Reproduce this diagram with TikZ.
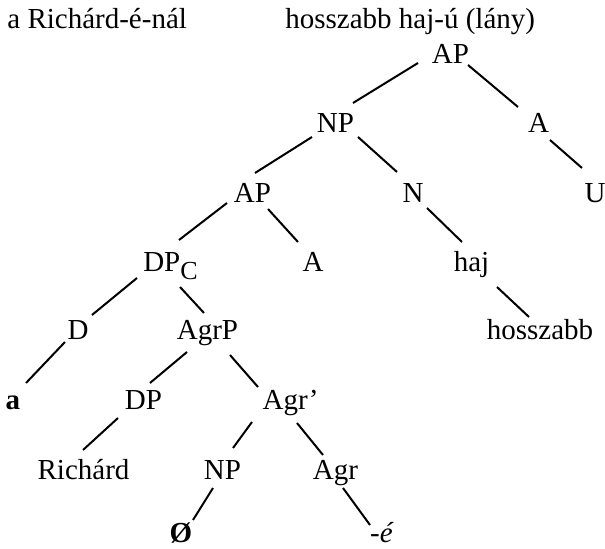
\documentclass[tikz,border=0pt]{standalone}
\usepackage{fontspec}
\setmainfont{Liberation Serif}
\usepackage{tikz}
\tikzset{
    every node/.style={inner sep=0pt, anchor=base, font=\fontsize{14.5}{17}\selectfont},
    branch/.style={line width=1pt},
}

\begin{document}
\begin{tikzpicture}[x=0.5pt, y=-0.5pt]
\useasboundingbox (0,0) rectangle (605,549);
% headings
\node[anchor=base west] (head1) at (7,29) {a Richárd-é-nál};
\node[anchor=base west] (head2) at (285,29) {hosszabb haj-ú (lány)};
% right tree
\node (ap0) at (450.5,64) {AP};
\node (np1) at (335.5,133) {NP};
\node (a1) at (538.5,133) {A};
\node (ap2) at (252.5,203) {AP};
\node (n) at (413,203) {N};
\node (u) at (595,203) {U};
\node (dpc) at (170.5,272) {DP\raisebox{-4pt}{\fontsize{13}{13}\selectfont C}};
\node (a2) at (313,272) {A};
\node (haj) at (471.5,272) {haj};
\node (d) at (78,340) {D};
\node (agrp) at (207.5,340) {AgrP};
\node (hosszabb) at (540,340) {hosszabb};
\node (det) at (13,410) {\textbf{a}};
\node (dp) at (143.5,410) {DP};
\node (agrbar) at (290.5,410) {Agr’};
\node (richard) at (83.5,480) {Richárd};
\node (np) at (222.5,480) {NP};
\node (agr) at (335.5,480) {Agr};
\node (empty) at (181,543) {\textbf{Ø}};
\node (suffix) at (382,543) {\textit{-é}};
% branches
\draw[branch] ([shift={(-32.5,-1)}]ap0.base) -- ([shift={(17.5,-30)}]np1.base);
\draw[branch] ([shift={(17.5,1)}]ap0.base) -- ([shift={(-20.5,-26)}]a1.base);
\draw[branch] ([shift={(-23.5,4)}]np1.base) -- ([shift={(2.5,-30)}]ap2.base);
\draw[branch] ([shift={(22.5,4)}]np1.base) -- ([shift={(-16,-31)}]n.base);
\draw[branch] ([shift={(11.5,7)}]a1.base) -- ([shift={(-13,-35)}]u.base);
\draw[branch] ([shift={(-25.5,0)}]ap2.base) -- ([shift={(8.5,-32)}]dpc.base);
\draw[branch] ([shift={(15.5,6)}]ap2.base) -- ([shift={(-15,-30)}]a2.base);
\draw[branch] ([shift={(14,5)}]n.base) -- ([shift={(-9.5,-30)}]haj.base);
\draw[branch] ([shift={(25.5,15)}]haj.base) -- ([shift={(-11,-23)}]hosszabb.base);
\draw[branch] ([shift={(-33.5,6)}]dpc.base) -- ([shift={(14,-25)}]d.base);
\draw[branch] ([shift={(9.5,15)}]dpc.base) -- ([shift={(-3.5,-27)}]agrp.base);
\draw[branch] ([shift={(-13,2)}]d.base) -- ([shift={(13,-27)}]det.base);
\draw[branch] ([shift={(-20.5,12)}]agrp.base) -- ([shift={(6.5,-27)}]dp.base);
\draw[branch] ([shift={(22.5,15)}]agrp.base) -- ([shift={(-32.5,-23)}]agrbar.base);
\draw[branch] ([shift={(-25.5,8)}]dp.base) -- ([shift={(-0.5,-30)}]richard.base);
\draw[branch] ([shift={(-38.5,12)}]agrbar.base) -- ([shift={(10.5,-32)}]np.base);
\draw[branch] ([shift={(6.5,13)}]agrbar.base) -- ([shift={(-12.5,-25)}]agr.base);
\draw[branch] ([shift={(-9.5,8)}]np.base) -- ([shift={(12,-23)}]empty.base);
\draw[branch] ([shift={(7.5,8)}]agr.base) -- ([shift={(-12,-18)}]suffix.base);
\end{tikzpicture}
\end{document}
